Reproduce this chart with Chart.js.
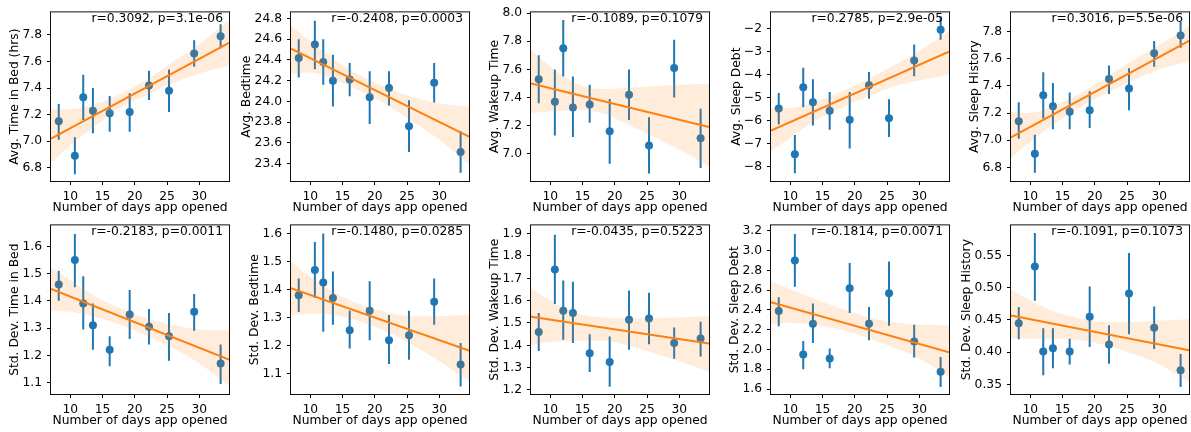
<!DOCTYPE html>
<html lang="en">
<head>
  <meta charset="UTF-8" />
  <title>Sleep metrics vs. app usage</title>
  <script src="https://cdn.jsdelivr.net/npm/chart.js"></script>
  <style>
    html, body { margin: 0; padding: 0; background: #fff; overflow: hidden; }
    #wrap { position: relative; width: 1191px; height: 432px; overflow: hidden; }
    #wrap canvas { position: absolute; }
  </style>
</head>
<body>
  <div id="wrap"></div>

  <script>
    // shared x values (binned number of days the app was opened)
    const days = [8.2, 10.7, 12.0, 13.5, 16.1, 19.2, 22.2, 25.3, 29.2, 33.3];
    const xRange = [7.0, 34.6];
    const xTicks = [10, 15, 20, 25, 30];
    const bandX = [7.0, 10, 14, 18, 22, 26, 30, 34.6];

    // Avg. Time in Bed (hrs)
    const bedMean = [7.15, 6.89, 7.33, 7.23, 7.21, 7.22, 7.42, 7.38, 7.66, 7.79];
    const bedLo   = [7.01, 6.75, 7.16, 7.06, 7.07, 7.07, 7.31, 7.22, 7.56, 7.70];
    const bedHi   = [7.28, 7.03, 7.50, 7.40, 7.34, 7.36, 7.53, 7.54, 7.76, 7.88];
    const bedFit  = [7.02, 7.74];
    const bedBandHi = [7.24, 7.24, 7.28, 7.36, 7.47, 7.60, 7.73, 7.91];
    const bedBandLo = [6.84, 6.97, 7.12, 7.26, 7.35, 7.44, 7.51, 7.57];

    // Avg. Bedtime
    const btMean = [24.42, 24.55, 24.38, 24.20, 24.21, 24.04, 24.13, 23.76, 24.18, 23.51];
    const btLo   = [24.23, 24.31, 24.16, 23.95, 24.05, 23.78, 23.96, 23.51, 23.99, 23.31];
    const btHi   = [24.60, 24.78, 24.60, 24.45, 24.37, 24.29, 24.29, 24.01, 24.37, 23.71];
    const btFit  = [24.51, 23.66];
    const btBandHi = [24.73, 24.58, 24.39, 24.24, 24.13, 24.04, 23.98, 23.95];
    const btBandLo = [24.27, 24.28, 24.20, 24.09, 23.96, 23.80, 23.63, 23.39];

    // Avg. Wakeup Time
    const wkMean = [7.53, 7.37, 7.75, 7.33, 7.35, 7.16, 7.42, 7.06, 7.61, 7.11];
    const wkLo   = [7.36, 7.13, 7.55, 7.12, 7.22, 6.93, 7.24, 6.86, 7.40, 6.90];
    const wkHi   = [7.70, 7.60, 7.95, 7.55, 7.49, 7.39, 7.60, 7.26, 7.81, 7.32];
    const wkFit  = [7.50, 7.19];
    const wkBandHi = [7.74, 7.62, 7.50, 7.46, 7.47, 7.48, 7.49, 7.50];
    const wkBandLo = [7.29, 7.30, 7.31, 7.29, 7.21, 7.12, 7.03, 6.91];

    // Avg. Sleep Debt
    const debtMean = [-5.48, -7.47, -4.55, -5.20, -5.57, -5.97, -4.46, -5.90, -3.38, -2.04];
    const debtLo   = [-6.17, -8.30, -5.42, -6.22, -6.40, -7.22, -5.05, -6.72, -4.07, -2.47];
    const debtHi   = [-4.80, -6.63, -3.70, -4.20, -4.75, -4.75, -3.88, -5.07, -2.68, -1.45];
    const debtFit  = [-6.44, -2.99];
    const debtBandHi = [-5.43, -5.45, -5.18, -4.72, -4.20, -3.60, -2.95, -2.10];
    const debtBandLo = [-7.34, -6.75, -5.98, -5.42, -4.95, -4.52, -4.25, -4.00];

    // Avg. Sleep History
    const histMean = [7.14, 6.90, 7.33, 7.25, 7.21, 7.22, 7.45, 7.38, 7.64, 7.77];
    const histLo   = [7.01, 6.76, 7.16, 7.08, 7.08, 7.09, 7.34, 7.22, 7.54, 7.68];
    const histHi   = [7.28, 7.04, 7.50, 7.42, 7.35, 7.36, 7.55, 7.53, 7.73, 7.87];
    const histFit  = [7.02, 7.73];
    const histBandHi = [7.21, 7.20, 7.26, 7.35, 7.47, 7.59, 7.70, 7.84];
    const histBandLo = [6.87, 6.99, 7.13, 7.25, 7.35, 7.44, 7.52, 7.58];

    // Std. Dev. Time in Bed
    const sdBedMean = [1.46, 1.55, 1.39, 1.31, 1.22, 1.35, 1.305, 1.27, 1.36, 1.17];
    const sdBedLo   = [1.40, 1.45, 1.295, 1.22, 1.16, 1.26, 1.24, 1.18, 1.29, 1.095];
    const sdBedHi   = [1.51, 1.645, 1.49, 1.39, 1.27, 1.44, 1.37, 1.355, 1.425, 1.24];
    const sdBedFit  = [1.444, 1.184];
    const sdBedBandHi = [1.522, 1.475, 1.415, 1.370, 1.335, 1.310, 1.295, 1.292];
    const sdBedBandLo = [1.364, 1.360, 1.340, 1.310, 1.272, 1.225, 1.170, 1.088];

    // Std. Dev. Bedtime
    const sdBtMean = [1.38, 1.47, 1.425, 1.37, 1.255, 1.325, 1.22, 1.237, 1.357, 1.133];
    const sdBtLo   = [1.32, 1.37, 1.25, 1.275, 1.19, 1.22, 1.135, 1.15, 1.275, 1.055];
    const sdBtHi   = [1.44, 1.57, 1.60, 1.465, 1.325, 1.43, 1.31, 1.325, 1.44, 1.21];
    const sdBtFit  = [1.405, 1.183];
    const sdBtBandHi = [1.50, 1.445, 1.385, 1.345, 1.318, 1.305, 1.305, 1.311];
    const sdBtBandLo = [1.307, 1.315, 1.308, 1.285, 1.248, 1.200, 1.145, 1.074];

    // Std. Dev. Wakeup Time
    const sdWkMean = [1.46, 1.74, 1.555, 1.545, 1.365, 1.325, 1.515, 1.52, 1.41, 1.43];
    const sdWkLo   = [1.375, 1.585, 1.425, 1.41, 1.28, 1.215, 1.38, 1.405, 1.34, 1.35];
    const sdWkHi   = [1.545, 1.895, 1.69, 1.685, 1.45, 1.44, 1.645, 1.635, 1.48, 1.505];
    const sdWkFit  = [1.528, 1.408];
    const sdWkBandHi = [1.654, 1.60, 1.545, 1.525, 1.520, 1.522, 1.525, 1.530];
    const sdWkBandLo = [1.402, 1.415, 1.420, 1.420, 1.400, 1.365, 1.330, 1.280];

    // Std. Dev. Sleep Debt
    const sdDebtMean = [2.39, 2.90, 1.95, 2.26, 1.91, 2.62, 2.26, 2.57, 2.08, 1.775];
    const sdDebtLo   = [2.235, 2.635, 1.80, 2.065, 1.81, 2.37, 2.095, 2.24, 1.92, 1.62];
    const sdDebtHi   = [2.53, 3.17, 2.085, 2.465, 2.01, 2.875, 2.43, 2.89, 2.25, 1.925];
    const sdDebtFit  = [2.478, 1.971];
    const sdDebtBandHi = [2.687, 2.610, 2.505, 2.410, 2.330, 2.275, 2.250, 2.246];
    const sdDebtBandLo = [2.257, 2.270, 2.245, 2.200, 2.120, 2.020, 1.910, 1.726];

    // Std. Dev. Sleep History
    const sdHistMean = [0.445, 0.533, 0.401, 0.406, 0.401, 0.455, 0.412, 0.491, 0.438, 0.372];
    const sdHistLo   = [0.42, 0.48, 0.364, 0.375, 0.381, 0.408, 0.382, 0.428, 0.405, 0.346];
    const sdHistHi   = [0.47, 0.585, 0.437, 0.437, 0.421, 0.502, 0.442, 0.554, 0.471, 0.397];
    const sdHistFit  = [0.457, 0.403];
    const sdHistBandHi = [0.497, 0.480, 0.462, 0.452, 0.447, 0.447, 0.449, 0.451];
    const sdHistBandLo = [0.421, 0.421, 0.421, 0.418, 0.410, 0.397, 0.381, 0.354];

    const panels = [
      { label: 'Avg. Time in Bed (hrs)', stat: 'r=0.3092, p=3.1e-06', mean: bedMean, lo: bedLo, hi: bedHi, fit: bedFit, bandHi: bedBandHi, bandLo: bedBandLo,
        yRange: [6.70, 7.97], yTicks: [6.8, 7.0, 7.2, 7.4, 7.6, 7.8], dec: 1 },
      { label: 'Avg. Bedtime', stat: 'r=-0.2408, p=0.0003', mean: btMean, lo: btLo, hi: btHi, fit: btFit, bandHi: btBandHi, bandLo: btBandLo,
        yRange: [23.23, 24.86], yTicks: [23.4, 23.6, 23.8, 24.0, 24.2, 24.4, 24.6, 24.8], dec: 1 },
      { label: 'Avg. Wakeup Time', stat: 'r=-0.1089, p=0.1079', mean: wkMean, lo: wkLo, hi: wkHi, fit: wkFit, bandHi: wkBandHi, bandLo: wkBandLo,
        yRange: [6.807, 8.005], yTicks: [7.0, 7.2, 7.4, 7.6, 7.8, 8.0], dec: 1 },
      { label: 'Avg. Sleep Debt', stat: 'r=0.2785, p=2.9e-05', mean: debtMean, lo: debtLo, hi: debtHi, fit: debtFit, bandHi: debtBandHi, bandLo: debtBandLo,
        yRange: [-8.64, -1.28], yTicks: [-8, -7, -6, -5, -4, -3, -2], dec: 0 },
      { label: 'Avg. Sleep History', stat: 'r=0.3016, p=5.5e-06', mean: histMean, lo: histLo, hi: histHi, fit: histFit, bandHi: histBandHi, bandLo: histBandLo,
        yRange: [6.70, 7.94], yTicks: [6.8, 7.0, 7.2, 7.4, 7.6, 7.8], dec: 1 },
      { label: 'Std. Dev. Time in Bed', stat: 'r=-0.2183, p=0.0011', mean: sdBedMean, lo: sdBedLo, hi: sdBedHi, fit: sdBedFit, bandHi: sdBedBandHi, bandLo: sdBedBandLo,
        yRange: [1.058, 1.677], yTicks: [1.1, 1.2, 1.3, 1.4, 1.5, 1.6], dec: 1 },
      { label: 'Std. Dev. Bedtime', stat: 'r=-0.1480, p=0.0285', mean: sdBtMean, lo: sdBtLo, hi: sdBtHi, fit: sdBtFit, bandHi: sdBtBandHi, bandLo: sdBtBandLo,
        yRange: [1.028, 1.629], yTicks: [1.1, 1.2, 1.3, 1.4, 1.5, 1.6], dec: 1 },
      { label: 'Std. Dev. Wakeup Time', stat: 'r=-0.0435, p=0.5223', mean: sdWkMean, lo: sdWkLo, hi: sdWkHi, fit: sdWkFit, bandHi: sdWkBandHi, bandLo: sdWkBandLo,
        yRange: [1.182, 1.937], yTicks: [1.2, 1.3, 1.4, 1.5, 1.6, 1.7, 1.8, 1.9], dec: 1 },
      { label: 'Std. Dev. Sleep Debt', stat: 'r=-0.1814, p=0.0071', mean: sdDebtMean, lo: sdDebtLo, hi: sdDebtHi, fit: sdDebtFit, bandHi: sdDebtBandHi, bandLo: sdDebtBandLo,
        yRange: [1.55, 3.256], yTicks: [1.6, 1.8, 2.0, 2.2, 2.4, 2.6, 2.8, 3.0, 3.2], dec: 1 },
      { label: 'Std. Dev. Sleep History', stat: 'r=-0.1091, p=0.1073', mean: sdHistMean, lo: sdHistLo, hi: sdHistHi, fit: sdHistFit, bandHi: sdHistBandHi, bandLo: sdHistBandLo,
        yRange: [0.335, 0.597], yTicks: [0.35, 0.40, 0.45, 0.50, 0.55], dec: 2 }
    ];

    const BLUE = '#1f77b4';
    const ORANGE = '#ff7f0e';
    const font = { family: 'DejaVu Sans', size: 12.3 };
    // each canvas starts 20px left of its grid cell so long y titles fit
    const CANVAS_W = 260, CANVAS_H = 216;
    const AREA_LEFT = 71, AREA_BOTTOM = 181;

    // full box around each plot + the r/p annotation
    const framePlugin = {
      id: 'frame',
      afterDraw(chart) {
        const { ctx, chartArea: a } = chart;
        ctx.save();
        ctx.strokeStyle = '#111';
        ctx.lineWidth = 1;
        ctx.strokeRect(a.left - 0.5, a.top - 0.5, a.right - a.left + 1, a.bottom - a.top + 1);
        ctx.font = '12.3px "DejaVu Sans"';
        ctx.fillStyle = '#000';
        ctx.textAlign = 'right';
        ctx.textBaseline = 'middle';
        ctx.fillText(chart.options.plugins.frame.text, a.right - 6, a.top + 6);
        ctx.restore();
      }
    };

    const wrap = document.getElementById('wrap');

    panels.forEach((p, i) => {
      const col = i % 5, row = Math.floor(i / 5);
      const canvas = document.createElement('canvas');
      canvas.width = CANVAS_W;
      canvas.height = CANVAS_H;
      canvas.style.left = (col * 240 - 20) + 'px';
      canvas.style.top = (row * 213) + 'px';
      wrap.appendChild(canvas);

      const errData = [];
      days.forEach((d, k) => {
        errData.push({ x: d, y: p.lo[k] }, { x: d, y: p.hi[k] }, { x: d, y: null });
      });

      const chart = new Chart(canvas, {
        type: 'line',
        data: {
          datasets: [
            { data: bandX.map((x, k) => ({ x, y: p.bandHi[k] })), fill: '+1',
              backgroundColor: 'rgba(255,127,14,0.15)', borderColor: 'rgba(0,0,0,0)', borderWidth: 0,
              pointRadius: 0, cubicInterpolationMode: 'monotone', order: 2 },
            { data: bandX.map((x, k) => ({ x, y: p.bandLo[k] })), fill: false,
              borderColor: 'rgba(0,0,0,0)', borderWidth: 0, pointRadius: 0,
              cubicInterpolationMode: 'monotone', order: 2 },
            { data: errData, borderColor: BLUE, borderWidth: 2, pointRadius: 0,
              spanGaps: false, fill: false, order: 3 },
            { data: [{ x: xRange[0], y: p.fit[0] }, { x: xRange[1], y: p.fit[1] }],
              borderColor: ORANGE, borderWidth: 2, pointRadius: 0, fill: false, order: 1 },
            { data: days.map((d, k) => ({ x: d, y: p.mean[k] })), showLine: false,
              pointRadius: 4, pointBackgroundColor: BLUE, pointBorderWidth: 0, order: 4 }
          ]
        },
        options: {
          responsive: false,
          animation: false,
          events: [],
          layout: { padding: { top: 9, right: CANVAS_W - AREA_LEFT - 178, left: 0, bottom: 0 } },
          plugins: { legend: { display: false }, tooltip: { enabled: false }, frame: { text: p.stat } },
          scales: {
            x: {
              type: 'linear', min: xRange[0], max: xRange[1],
              afterBuildTicks: s => { s.ticks = xTicks.map(v => ({ value: v })); },
              grid: { drawOnChartArea: false, drawTicks: true, tickLength: 4, color: '#000' },
              border: { display: false },
              ticks: { font, color: '#000', padding: 4, maxRotation: 0, autoSkip: false },
              title: { display: true, text: 'Number of days app opened', font, color: '#000', padding: { top: -7, bottom: 0 } }
            },
            y: {
              type: 'linear', min: p.yRange[0], max: p.yRange[1],
              afterBuildTicks: s => { s.ticks = p.yTicks.map(v => ({ value: v })); },
              grid: { drawOnChartArea: false, drawTicks: true, tickLength: 4, color: '#000' },
              border: { display: false },
              ticks: { font, color: '#000', padding: 5, autoSkip: false,
                       callback: v => Number(v).toFixed(p.dec).replace('-', '\u2212') },
              title: { display: true, text: p.label, font, color: '#000', padding: { top: 0, bottom: -5 } }
            }
          }
        },
        plugins: [framePlugin]
      });

      // shift the plot box so every panel lines up on the same grid
      const a = chart.chartArea;
      chart.options.layout.padding.left += AREA_LEFT - a.left;
      chart.options.layout.padding.bottom += a.bottom - AREA_BOTTOM;
      chart.update();
    });
  </script>
</body>
</html>
